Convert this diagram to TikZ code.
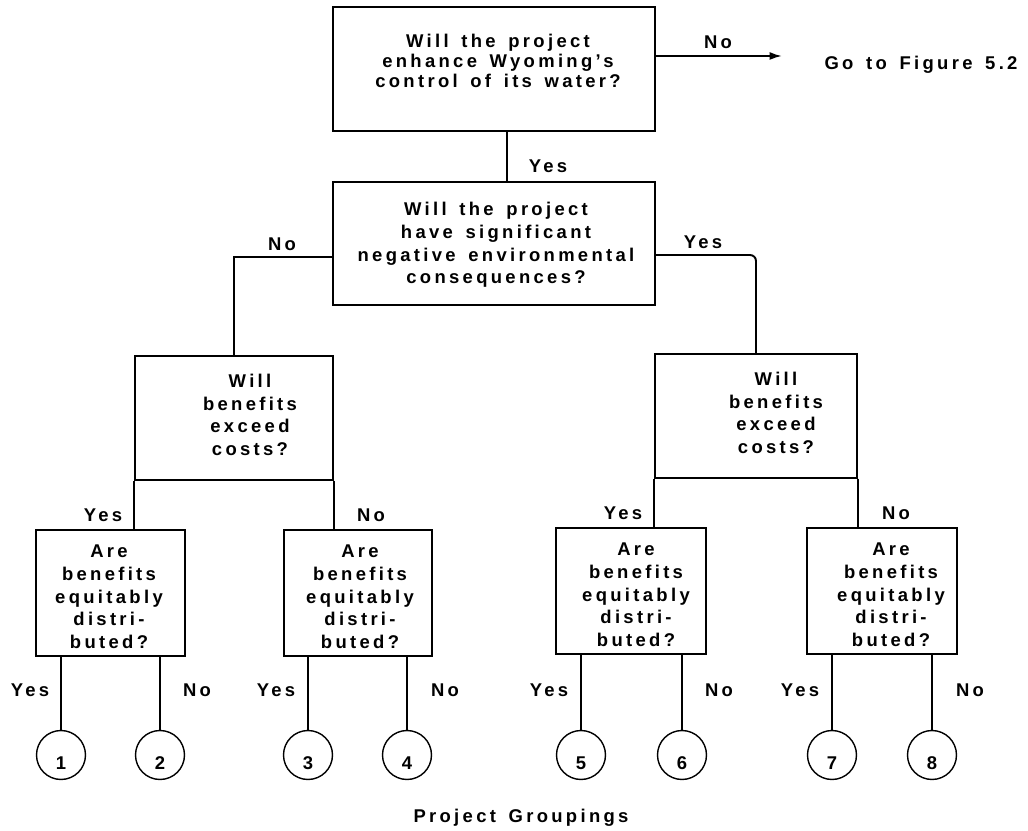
\documentclass[tikz,border=0pt]{standalone}
\usepackage{fontspec}
\setmainfont{Liberation Sans}[LetterSpace=18, WordSpace=1.5]
\usetikzlibrary{arrows.meta}

\begin{document}
\begin{tikzpicture}[x=0.02cm, y=-0.02cm,
    font=\bfseries\fontsize{10.5}{12.9}\selectfont,
    >={Latex[length=7pt, width=4.5pt]},
    qbox/.style={draw, line width=0.8pt, inner sep=0pt},
    qtext/.style={align=center, inner sep=0pt},
    wire/.style={line width=1.1pt},
    grp/.style={draw, circle, line width=0.8pt, minimum size=0.98cm, inner sep=0pt, text height=17pt, text depth=0pt}]
  \useasboundingbox (0,0) rectangle (1028,831);
  % ---------------- top question
  \node[qbox, minimum width=6.44cm, minimum height=2.48cm] (q1) at (494,69) {};
  \node[qtext, font=\bfseries\fontsize{10.5}{11.2}\selectfont] (q1t) at (498,61) {Will the project\\enhance Wyoming's\\control of its water?};
  \coordinate (tip) at (782,56);
  \draw[wire, ->] (q1.east |- tip) -- (tip);
  \node (no0) at (718,42) {No};
  \node (goto) at (921,65) {Go to Figure 5.2};
  % ---------------- environment question
  \node[qbox, minimum width=6.44cm, minimum height=2.46cm] (q2) at (494,243.5) {};
  \node[qtext] (q2t) at (496,245) {Will the project\\have significant\\negative environmental\\consequences?};
  \draw[wire] ([xshift=0.26cm]q1.south) -- ([xshift=0.26cm]q2.north);
  \node (yes0) at (548,166) {Yes};
  % ---------------- benefits vs costs
  \node[qbox, minimum width=3.96cm, minimum height=2.48cm] (c1) at (234,418) {};
  \node[qtext] (c1t) at (250,415) {Will\\benefits\\exceed\\costs?};
  \node[qbox, minimum width=4.04cm, minimum height=2.48cm] (c2) at (756,416) {};
  \node[qtext] (c2t) at (776,413) {Will\\benefits\\exceed\\costs?};
  \draw[wire] ([yshift=-0.27cm]q2.west) -| (c1.north);
  \draw[wire, rounded corners=0.12cm] ([yshift=-0.23cm]q2.east) -| (c2.north);
  \node (noL) at (282,244) {No};
  \node (yesR) at (703,242) {Yes};
  % ---------------- equity questions
  \node[qbox, minimum width=2.98cm, minimum height=2.52cm] (d1) at (110.5,593) {};
  \node[qbox, minimum width=2.96cm, minimum height=2.52cm] (d2) at (358,593) {};
  \node[qbox, minimum width=3.0cm, minimum height=2.52cm] (d3) at (631,591) {};
  \node[qbox, minimum width=3.0cm, minimum height=2.52cm] (d4) at (882,591) {};
  \foreach \b/\x/\y in {d1/109/597, d2/360/597, d3/636/595, d4/891/595}
    \node[qtext] (\b t) at (\x,\y) {Are\\benefits\\equitably\\distri-\\buted?};
  \draw[wire] (c1.south west) -- (c1.south west |- d1.north);
  \draw[wire] (c1.south east) -- (c1.south east |- d2.north);
  \draw[wire] (c2.south west) -- (c2.south west |- d3.north);
  \draw[wire] (c2.south east) -- (c2.south east |- d4.north);
  \node (yesL) at (103,515) {Yes};
  \node (noM) at (371,515) {No};
  \node (yesM) at (623,513) {Yes};
  \node (noR) at (896,513) {No};
  % ---------------- project groupings
  \foreach \n/\x/\b in {1/61/d1, 2/160/d1, 3/308/d2, 4/407/d2, 5/581/d3, 6/682/d3, 7/832/d4, 8/932/d4} {
    \node[grp] (g\n) at (\x,755) {\n};
    \draw[wire] (g\n.north |- \b.south) -- (g\n.north);
  }
  \foreach \n/\x in {1/30, 3/276, 5/549, 7/800} \node (y\n) at (\x,690) {Yes};
  \foreach \n/\x in {2/197, 4/445, 6/719, 8/970} \node (n\n) at (\x,690) {No};
  \node (groups) at (521,818) {Project Groupings};
\end{tikzpicture}
\end{document}
